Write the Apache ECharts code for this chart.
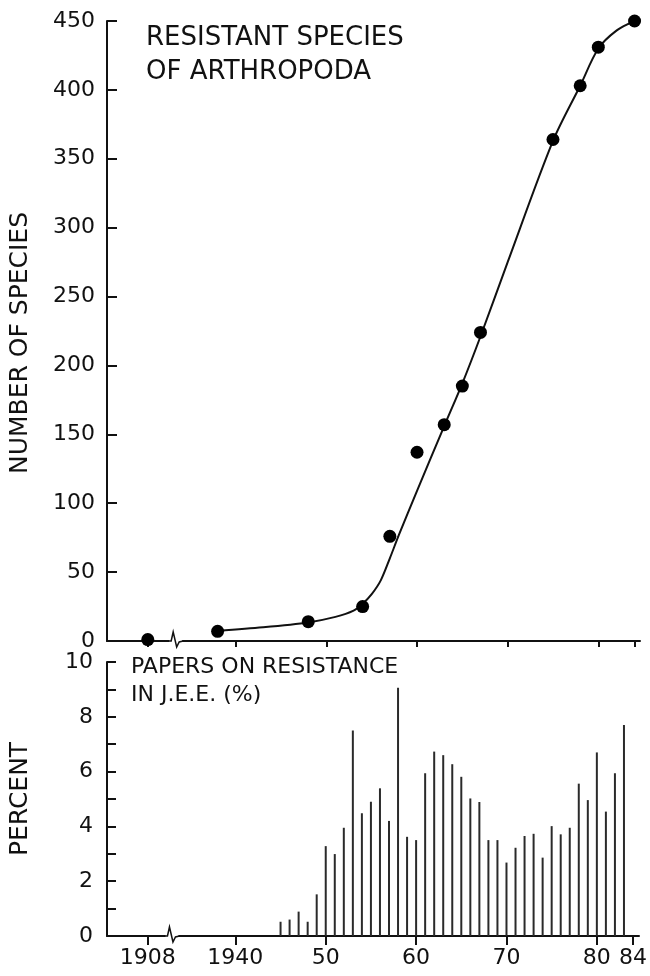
<!DOCTYPE html>
<html><head><meta charset="utf-8">
<script src="https://cdn.jsdelivr.net/npm/echarts@6/dist/echarts.min.js"></script>
<style>html,body{margin:0;padding:0;background:#fff}#c{width:650px;height:976px}</style>
</head><body><div id="c"></div>
<script>
// Resistant species of Arthropoda (points)
const speciesYears  = [1908, 1938, 1948, 1954, 1957, 1960, 1963, 1965, 1967, 1975, 1978, 1980, 1984];
const speciesCounts = [1, 7, 14, 25, 76, 137, 157, 185, 224, 364, 403, 431, 450];
// Hand-drawn fitted curve
const curveYears  = [1938, 1943, 1948, 1951, 1953, 1954, 1955, 1956, 1957, 1958, 1960, 1963, 1965, 1967, 1970, 1975, 1978, 1980, 1982, 1984];
const curveValues = [7.5, 10, 13.5, 17.5, 22, 27, 34, 44, 60, 77, 109, 156, 187, 221, 275, 363, 403, 430, 443, 450];
// Papers on resistance in J.E.E. (%)
const paperYears = [1945,1946,1947,1948,1949,1950,1951,1952,1953,1954,1955,1956,1957,1958,1959,1960,1961,1962,1963,1964,1965,1966,1967,1968,1969,1970,1971,1972,1973,1974,1975,1976,1977,1978,1979,1980,1981,1982,1983];
const paperPercent = [0.52,0.6,0.89,0.52,1.52,3.28,2.99,3.95,7.5,4.48,4.9,5.39,4.2,9.06,3.62,3.5,5.94,6.73,6.6,6.27,5.81,5.02,4.89,3.5,3.5,2.68,3.22,3.65,3.73,2.86,4.01,3.71,3.95,5.56,4.96,6.7,4.54,5.94,7.7];
// Axis ticks
const xTickValues = [1908, 1940, 1950, 1960, 1970, 1980, 1984];
const xTickLabels = ['1908', '1940', '50', '60', '70', '80', '84'];
const yTopTicks = [0, 50, 100, 150, 200, 250, 300, 350, 400, 450];
const yBottomTicks = [0, 1, 2, 3, 4, 5, 6, 7, 8, 9, 10];
const yBottomLabels = [0, 2, 4, 6, 8, 10];

const FONT = 'DejaVu Sans';
const INK = '#111';
const LW = 2;
const chart = echarts.init(document.getElementById('c'), null, {renderer: 'canvas'});

const xBase = {
  type: 'value', min: 1903.5, max: 1984.6,
  breaks: [{start: 1910, end: 1937, gap: '8%'}],
  breakArea: {show: false},
  splitLine: {show: false},
  axisLine: {show: true, lineStyle: {color: INK, width: LW}},
};

chart.setOption({
  animation: false,
  backgroundColor: '#fff',
  textStyle: {fontFamily: FONT, color: INK},
  title: [
    {text: 'RESISTANT SPECIES\nOF ARTHROPODA', left: 146, top: 21, padding: 0,
     textStyle: {fontFamily: FONT, fontSize: 26, fontWeight: 'normal', color: INK, lineHeight: 34}},
    {text: 'PAPERS ON RESISTANCE\nIN J.E.E. (%)', left: 131, top: 653, padding: 0,
     textStyle: {fontFamily: FONT, fontSize: 22, fontWeight: 'normal', color: INK, lineHeight: 28}}
  ],
  grid: [
    {left: 107, top: 21, width: 533, height: 620},
    {left: 107, top: 662, width: 533, height: 274}
  ],
  xAxis: [
    Object.assign({}, xBase, {gridIndex: 0,
      axisTick: {show: true, inside: false, length: 6, customValues: xTickValues, lineStyle: {color: INK, width: LW}},
      axisLabel: {show: false}}),
    Object.assign({}, xBase, {gridIndex: 1,
      axisTick: {show: true, inside: false, length: 9, customValues: xTickValues, lineStyle: {color: INK, width: LW}},
      axisLabel: {show: true, customValues: xTickValues, margin: 11, fontSize: 22, fontFamily: FONT, color: INK,
        formatter: v => xTickLabels[xTickValues.indexOf(v)]}})
  ],
  yAxis: [
    {type: 'value', gridIndex: 0, min: 0, max: 450, interval: 50,
     splitLine: {show: false},
     axisLine: {show: true, lineStyle: {color: INK, width: LW}},
     axisTick: {show: true, inside: true, length: 10, customValues: yTopTicks, lineStyle: {color: INK, width: LW}},
     axisLabel: {fontSize: 22, margin: 12, color: INK, fontFamily: FONT},
     name: 'NUMBER OF SPECIES', nameLocation: 'middle', nameGap: 74,
     nameTextStyle: {fontSize: 25, color: INK, fontFamily: FONT, padding: [0, 24, 0, 0]}},
    {type: 'value', gridIndex: 1, min: 0, max: 10, interval: 2,
     splitLine: {show: false},
     axisLine: {show: true, lineStyle: {color: INK, width: LW}},
     axisTick: {show: true, inside: true, length: 9, customValues: yBottomTicks, lineStyle: {color: INK, width: LW}},
     axisLabel: {fontSize: 22, margin: 14, color: INK, fontFamily: FONT, customValues: yBottomLabels},
     name: 'PERCENT', nameLocation: 'middle', nameGap: 74,
     nameTextStyle: {fontSize: 25, color: INK, fontFamily: FONT}}
  ],
  series: [
    {type: 'line', xAxisIndex: 0, yAxisIndex: 0, smooth: 0.3, symbol: 'none',
     lineStyle: {color: INK, width: 2},
     data: curveYears.map((y, i) => [y, curveValues[i]]), z: 2},
    {type: 'scatter', xAxisIndex: 0, yAxisIndex: 0, symbolSize: 13, clip: false,
     itemStyle: {color: '#000', opacity: 1},
     data: speciesYears.map((y, i) => [y, speciesCounts[i]]), z: 3},
    {type: 'bar', xAxisIndex: 1, yAxisIndex: 1, barWidth: 2,
     itemStyle: {color: '#2a2a2a'},
     data: paperYears.map((y, i) => [y, paperPercent[i]])}
  ]
});

// axis line across the break gap, with the hand-drawn break squiggle
function squiggle(xi, yi, f) {
  const xa = chart.convertToPixel({xAxisIndex: xi}, 1908);
  const xb = chart.convertToPixel({xAxisIndex: xi}, 1940);
  const xs = chart.convertToPixel({xAxisIndex: xi}, 1910);
  const xe = chart.convertToPixel({xAxisIndex: xi}, 1937);
  const y0 = Math.round(chart.convertToPixel({yAxisIndex: yi}, 0));
  const cx = xa + f * (xb - xa);
  return [
    {type: 'line', shape: {x1: xs - 1, y1: y0, x2: xe + 1, y2: y0}, style: {stroke: INK, lineWidth: LW}, z: 99},
    {type: 'rect', shape: {x: cx - 5, y: y0 - 2, width: 13, height: 4}, style: {fill: '#fff'}, z: 100},
    {type: 'polyline', shape: {points: [[cx - 6, y0], [cx - 3, y0], [cx - 1, y0 - 9], [cx + 2.5, y0 + 6], [cx + 5, y0 + 1], [cx + 9, y0]]},
     style: {stroke: INK, lineWidth: 1.5, fill: null}, z: 101}
  ];
}
chart.setOption({graphic: squiggle(0, 0, 0.3).concat(squiggle(1, 1, 0.26))});
</script>
</body></html>
